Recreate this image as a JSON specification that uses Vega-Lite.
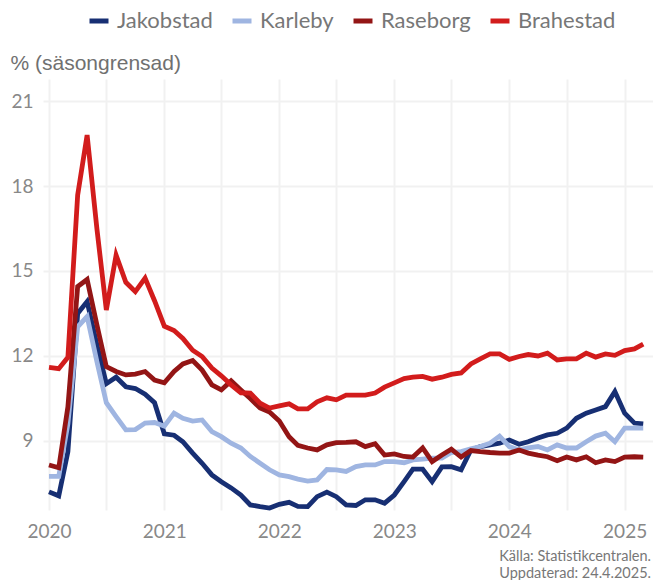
{
  "$schema": "https://vega.github.io/schema/vega-lite/v6.json",
  "width": 610,
  "height": 431,
  "autosize": "none",
  "padding": {"left": 43, "top": 79, "right": 0, "bottom": 70},
  "background": "white",
  "data": {"values": [
    {"month": "2020-01-01", "Jakobstad": 7.2, "Karleby": 7.75, "Raseborg": 8.15, "Brahestad": 11.6},
    {"month": "2020-02-01", "Jakobstad": 7.06, "Karleby": 7.75, "Raseborg": 8.05, "Brahestad": 11.55},
    {"month": "2020-03-01", "Jakobstad": 8.62, "Karleby": 9.6, "Raseborg": 10.2, "Brahestad": 11.95},
    {"month": "2020-04-01", "Jakobstad": 13.5, "Karleby": 13.03, "Raseborg": 14.45, "Brahestad": 17.68},
    {"month": "2020-05-01", "Jakobstad": 13.92, "Karleby": 13.39, "Raseborg": 14.7, "Brahestad": 19.8},
    {"month": "2020-06-01", "Jakobstad": 12.4, "Karleby": 11.8, "Raseborg": 13.1, "Brahestad": 16.5},
    {"month": "2020-07-01", "Jakobstad": 11.02, "Karleby": 10.35, "Raseborg": 11.62, "Brahestad": 13.62},
    {"month": "2020-08-01", "Jakobstad": 11.25, "Karleby": 9.86, "Raseborg": 11.45, "Brahestad": 15.56},
    {"month": "2020-09-01", "Jakobstad": 10.91, "Karleby": 9.39, "Raseborg": 11.33, "Brahestad": 14.6},
    {"month": "2020-10-01", "Jakobstad": 10.85, "Karleby": 9.4, "Raseborg": 11.36, "Brahestad": 14.27},
    {"month": "2020-11-01", "Jakobstad": 10.65, "Karleby": 9.63, "Raseborg": 11.45, "Brahestad": 14.75},
    {"month": "2020-12-01", "Jakobstad": 10.35, "Karleby": 9.65, "Raseborg": 11.15, "Brahestad": 13.95},
    {"month": "2021-01-01", "Jakobstad": 9.25, "Karleby": 9.52, "Raseborg": 11.05, "Brahestad": 13.05},
    {"month": "2021-02-01", "Jakobstad": 9.2, "Karleby": 9.98, "Raseborg": 11.45, "Brahestad": 12.9},
    {"month": "2021-03-01", "Jakobstad": 8.97, "Karleby": 9.8, "Raseborg": 11.72, "Brahestad": 12.62},
    {"month": "2021-04-01", "Jakobstad": 8.57, "Karleby": 9.7, "Raseborg": 11.84, "Brahestad": 12.2},
    {"month": "2021-05-01", "Jakobstad": 8.21, "Karleby": 9.74, "Raseborg": 11.5, "Brahestad": 11.98},
    {"month": "2021-06-01", "Jakobstad": 7.8, "Karleby": 9.33, "Raseborg": 10.98, "Brahestad": 11.57},
    {"month": "2021-07-01", "Jakobstad": 7.56, "Karleby": 9.15, "Raseborg": 10.8, "Brahestad": 11.3},
    {"month": "2021-08-01", "Jakobstad": 7.34, "Karleby": 8.92, "Raseborg": 11.12, "Brahestad": 10.98},
    {"month": "2021-09-01", "Jakobstad": 7.09, "Karleby": 8.75, "Raseborg": 10.8, "Brahestad": 10.7},
    {"month": "2021-10-01", "Jakobstad": 6.74, "Karleby": 8.45, "Raseborg": 10.5, "Brahestad": 10.69},
    {"month": "2021-11-01", "Jakobstad": 6.68, "Karleby": 8.21, "Raseborg": 10.16, "Brahestad": 10.33},
    {"month": "2021-12-01", "Jakobstad": 6.63, "Karleby": 7.98, "Raseborg": 10.02, "Brahestad": 10.16},
    {"month": "2022-01-01", "Jakobstad": 6.76, "Karleby": 7.8, "Raseborg": 9.7, "Brahestad": 10.24},
    {"month": "2022-02-01", "Jakobstad": 6.83, "Karleby": 7.74, "Raseborg": 9.15, "Brahestad": 10.31},
    {"month": "2022-03-01", "Jakobstad": 6.69, "Karleby": 7.65, "Raseborg": 8.84, "Brahestad": 10.13},
    {"month": "2022-04-01", "Jakobstad": 6.68, "Karleby": 7.58, "Raseborg": 8.75, "Brahestad": 10.13},
    {"month": "2022-05-01", "Jakobstad": 7.03, "Karleby": 7.62, "Raseborg": 8.68, "Brahestad": 10.38},
    {"month": "2022-06-01", "Jakobstad": 7.19, "Karleby": 7.99, "Raseborg": 8.86, "Brahestad": 10.52},
    {"month": "2022-07-01", "Jakobstad": 7.03, "Karleby": 7.98, "Raseborg": 8.94, "Brahestad": 10.45},
    {"month": "2022-08-01", "Jakobstad": 6.74, "Karleby": 7.92, "Raseborg": 8.95, "Brahestad": 10.62},
    {"month": "2022-09-01", "Jakobstad": 6.72, "Karleby": 8.09, "Raseborg": 8.97, "Brahestad": 10.62},
    {"month": "2022-10-01", "Jakobstad": 6.92, "Karleby": 8.15, "Raseborg": 8.8, "Brahestad": 10.62},
    {"month": "2022-11-01", "Jakobstad": 6.92, "Karleby": 8.15, "Raseborg": 8.9, "Brahestad": 10.69},
    {"month": "2022-12-01", "Jakobstad": 6.8, "Karleby": 8.27, "Raseborg": 8.5, "Brahestad": 10.9},
    {"month": "2023-01-01", "Jakobstad": 7.09, "Karleby": 8.27, "Raseborg": 8.54, "Brahestad": 11.05},
    {"month": "2023-02-01", "Jakobstad": 7.56, "Karleby": 8.23, "Raseborg": 8.45, "Brahestad": 11.2},
    {"month": "2023-03-01", "Jakobstad": 8.0, "Karleby": 8.33, "Raseborg": 8.43, "Brahestad": 11.25},
    {"month": "2023-04-01", "Jakobstad": 8.0, "Karleby": 8.36, "Raseborg": 8.75, "Brahestad": 11.28},
    {"month": "2023-05-01", "Jakobstad": 7.56, "Karleby": 8.39, "Raseborg": 8.27, "Brahestad": 11.18},
    {"month": "2023-06-01", "Jakobstad": 8.08, "Karleby": 8.39, "Raseborg": 8.5, "Brahestad": 11.25},
    {"month": "2023-07-01", "Jakobstad": 8.09, "Karleby": 8.59, "Raseborg": 8.71, "Brahestad": 11.35},
    {"month": "2023-08-01", "Jakobstad": 7.98, "Karleby": 8.62, "Raseborg": 8.43, "Brahestad": 11.4},
    {"month": "2023-09-01", "Jakobstad": 8.68, "Karleby": 8.72, "Raseborg": 8.66, "Brahestad": 11.72},
    {"month": "2023-10-01", "Jakobstad": 8.8, "Karleby": 8.8, "Raseborg": 8.62, "Brahestad": 11.9},
    {"month": "2023-11-01", "Jakobstad": 8.86, "Karleby": 8.92, "Raseborg": 8.59, "Brahestad": 12.07},
    {"month": "2023-12-01", "Jakobstad": 8.92, "Karleby": 9.17, "Raseborg": 8.57, "Brahestad": 12.07},
    {"month": "2024-01-01", "Jakobstad": 9.03, "Karleby": 8.8, "Raseborg": 8.57, "Brahestad": 11.88},
    {"month": "2024-02-01", "Jakobstad": 8.88, "Karleby": 8.68, "Raseborg": 8.68, "Brahestad": 11.98},
    {"month": "2024-03-01", "Jakobstad": 8.97, "Karleby": 8.75, "Raseborg": 8.57, "Brahestad": 12.05},
    {"month": "2024-04-01", "Jakobstad": 9.1, "Karleby": 8.8, "Raseborg": 8.5, "Brahestad": 12.0},
    {"month": "2024-05-01", "Jakobstad": 9.21, "Karleby": 8.68, "Raseborg": 8.44, "Brahestad": 12.1},
    {"month": "2024-06-01", "Jakobstad": 9.27, "Karleby": 8.86, "Raseborg": 8.3, "Brahestad": 11.86},
    {"month": "2024-07-01", "Jakobstad": 9.45, "Karleby": 8.75, "Raseborg": 8.43, "Brahestad": 11.9},
    {"month": "2024-08-01", "Jakobstad": 9.8, "Karleby": 8.75, "Raseborg": 8.33, "Brahestad": 11.9},
    {"month": "2024-09-01", "Jakobstad": 9.98, "Karleby": 8.97, "Raseborg": 8.44, "Brahestad": 12.1},
    {"month": "2024-10-01", "Jakobstad": 10.09, "Karleby": 9.17, "Raseborg": 8.23, "Brahestad": 11.96},
    {"month": "2024-11-01", "Jakobstad": 10.21, "Karleby": 9.27, "Raseborg": 8.33, "Brahestad": 12.07},
    {"month": "2024-12-01", "Jakobstad": 10.74, "Karleby": 8.97, "Raseborg": 8.27, "Brahestad": 12.02},
    {"month": "2025-01-01", "Jakobstad": 9.98, "Karleby": 9.45, "Raseborg": 8.43, "Brahestad": 12.19},
    {"month": "2025-02-01", "Jakobstad": 9.63, "Karleby": 9.45, "Raseborg": 8.44, "Brahestad": 12.25},
    {"month": "2025-03-01", "Jakobstad": 9.6, "Karleby": 9.45, "Raseborg": 8.43, "Brahestad": 12.42}
  ]},
  "transform": [{"fold": ["Jakobstad", "Karleby", "Raseborg", "Brahestad"], "as": ["city", "value"]}],
  "mark": {"type": "line", "strokeWidth": 4.8},
  "encoding": {
    "x": {
      "field": "month", "type": "temporal",
      "scale": {"domain": [{"year": 2019, "month": 12, "date": 13}, {"year": 2025, "month": 4, "date": 1}]},
      "axis": {
        "title": null,
        "tickCount": {"interval": "month", "step": 6},
        "labelExpr": "month(datum.value) == 0 ? timeFormat(datum.value, '%Y') : ''",
        "grid": true, "gridColor": "#f1f1f1", "gridWidth": 2,
        "ticks": false, "domain": false,
        "labelFont": "Lato", "labelFontSize": 19, "labelColor": "#888888",
        "labelPadding": 12, "labelOverlap": false, "labelFlush": false
      }
    },
    "y": {
      "field": "value", "type": "quantitative",
      "scale": {"domain": [6.56, 21.78], "nice": false, "zero": false},
      "axis": {
        "values": [9, 12, 15, 18, 21],
        "grid": true, "gridColor": "#f1f1f1", "gridWidth": 2,
        "ticks": false, "domain": false,
        "labelFont": "Lato", "labelFontSize": 19, "labelColor": "#888888",
        "labelPadding": 10,
        "title": "% (säsongrensad)",
        "titleAngle": 0, "titleAlign": "left", "titleBaseline": "alphabetic",
        "titleX": -33, "titleY": -10,
        "titleFont": "Liberation Sans", "titleFontSize": 21, "titleFontWeight": "normal",
        "titleColor": "#707070"
      }
    },
    "color": {
      "field": "city", "type": "nominal",
      "scale": {
        "domain": ["Jakobstad", "Karleby", "Raseborg", "Brahestad"],
        "range": ["#172f73", "#9fb5e1", "#931515", "#d21c1c"]
      },
      "legend": {
        "title": null,
        "orient": "none", "direction": "horizontal",
        "legendX": 44, "legendY": -70,
        "symbolType": "stroke", "symbolStrokeWidth": 5, "symbolSize": 361,
        "labelFont": "Lato", "labelFontSize": 22, "labelColor": "#777777",
        "labelOffset": 6, "columnPadding": 9
      }
    }
  },
  "title": {
    "text": ["Källa: Statistikcentralen.", "Uppdaterad: 24.4.2025."],
    "orient": "bottom", "anchor": "end", "frame": "group",
    "font": "Lato", "fontSize": 14.5, "fontWeight": "normal",
    "color": "#777777", "lineHeight": 17, "offset": 9, "dx": -2
  },
  "config": {"view": {"stroke": null}}
}
